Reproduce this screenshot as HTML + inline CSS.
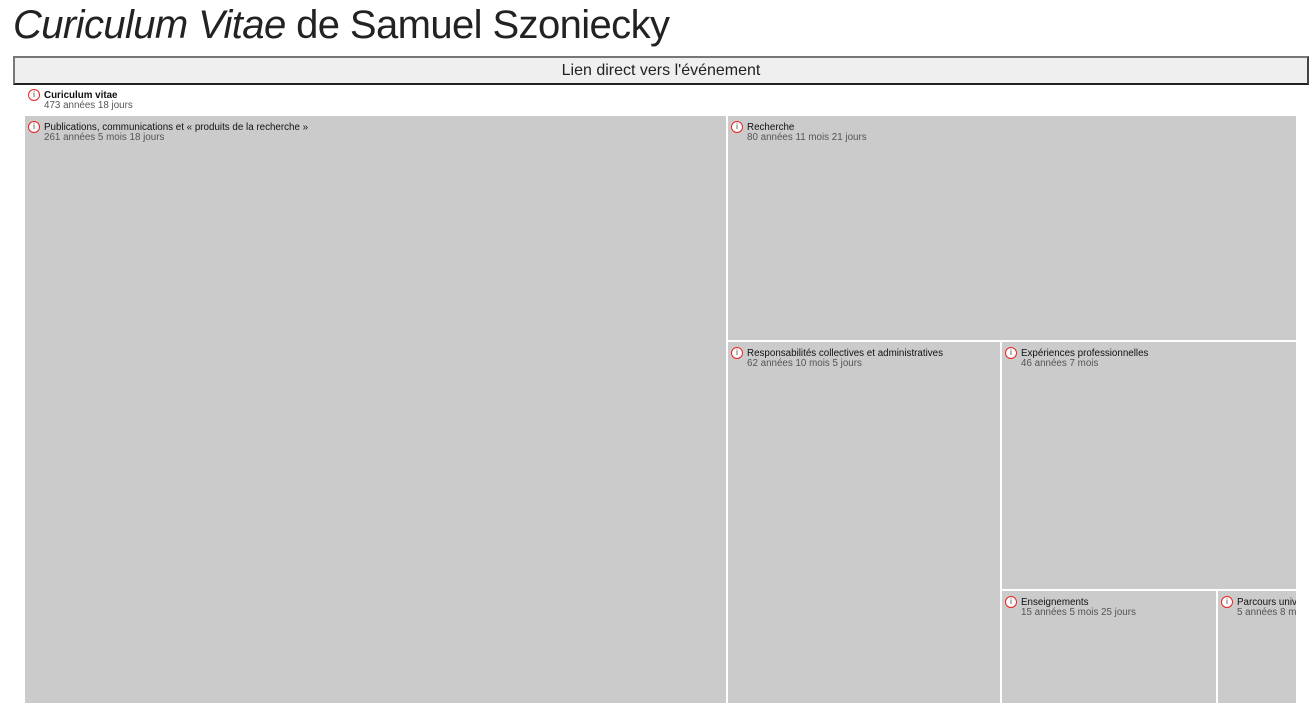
<!DOCTYPE html>
<html><head><meta charset="utf-8"><style>
body{margin:0;background:#fff;width:1313px;height:708px;overflow:hidden;position:relative;font-family:"Liberation Sans",sans-serif}
h1{position:absolute;left:13px;top:1px;margin:0;font-weight:normal;font-size:40px;line-height:48px;color:#222;letter-spacing:-0.6px}
.btn{position:absolute;left:13px;top:56px;width:1292px;height:25px;background:#efefef;border:2px solid #777;border-bottom-color:#222;border-right-color:#444;text-align:center;font-size:16px;line-height:26px;color:#222}
.c{position:absolute;background:#cbcbcb;overflow:hidden}
.l{position:absolute;left:3px;top:7px;white-space:nowrap;font-size:9.8px;line-height:10px}
.i{position:absolute;left:0;top:-2px;width:12px;height:12px;border:1.3px solid #e22;border-radius:50%;background:#fff;font-size:8px;line-height:10px;text-align:center;color:#333;box-sizing:border-box}
.t{margin-left:16px;color:#111}
.s{margin-left:16px;color:#555}
</style></head><body>
<h1><i>Curiculum Vitae</i> de Samuel Szoniecky</h1>
<div class="btn">Lien direct vers l'événement</div>
<div class="l" style="left:28px;top:91px"><div class="i">i</div><div class="t"><b>Curiculum vitae</b></div><div class="s">473 années 18 jours</div></div>
<div class="c" style="left:25px;top:116px;width:701px;height:587px"><div class="l"><div class="i">i</div><div class="t">Publications, communications et « produits de la recherche »</div><div class="s">261 années 5 mois 18 jours</div></div></div>
<div class="c" style="left:728px;top:116px;width:568px;height:224px"><div class="l"><div class="i">i</div><div class="t">Recherche</div><div class="s">80 années 11 mois 21 jours</div></div></div>
<div class="c" style="left:728px;top:342px;width:272px;height:361px"><div class="l"><div class="i">i</div><div class="t">Responsabilités collectives et administratives</div><div class="s">62 années 10 mois 5 jours</div></div></div>
<div class="c" style="left:1002px;top:342px;width:294px;height:247px"><div class="l"><div class="i">i</div><div class="t">Expériences professionnelles</div><div class="s">46 années 7 mois</div></div></div>
<div class="c" style="left:1002px;top:591px;width:214px;height:112px"><div class="l"><div class="i">i</div><div class="t">Enseignements</div><div class="s">15 années 5 mois 25 jours</div></div></div>
<div class="c" style="left:1218px;top:591px;width:78px;height:112px"><div class="l"><div class="i">i</div><div class="t">Parcours universitaire</div><div class="s">5 années 8 mois</div></div></div>
</body></html>
